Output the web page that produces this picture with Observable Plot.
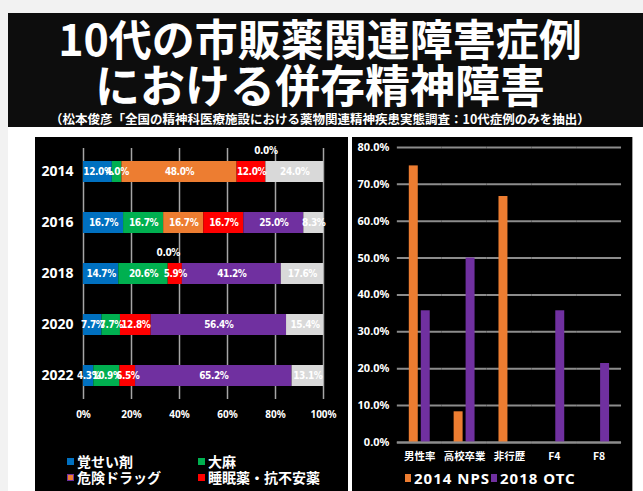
<!DOCTYPE html>
<html><head><meta charset="utf-8">
<script src="https://cdn.jsdelivr.net/npm/d3@7"></script>
<script src="https://cdn.jsdelivr.net/npm/@observablehq/plot@0.6"></script>
<style>
html,body{margin:0;padding:0;}
body{width:643px;height:491px;position:relative;overflow:hidden;background:#f2f2f2;font-family:"Noto Sans CJK JP",sans-serif;}
#white{position:absolute;left:8px;top:13px;width:635px;height:478px;background:#fff;}
#titlebox{position:absolute;left:8px;top:13px;width:635px;height:114px;background:#0d0d0d;}
.t{position:absolute;left:0;width:640px;text-align:center;color:#fff;font-weight:700;white-space:nowrap;line-height:1;}
#t1{top:16px;font-size:43px;height:43px;}
#t2{top:61px;font-size:45px;height:45px;}
#t3{top:113px;font-size:12.5px;}
.panel{position:absolute;top:137px;height:354px;background:#000;box-sizing:border-box;}
#left{left:35px;width:313px;}
#right{left:352px;width:281px;border-right:1px solid #a0a0a0;}
.panel svg{position:absolute;left:0;top:0;}
.lg{position:absolute;display:flex;align-items:center;color:#fff;font-weight:700;white-space:nowrap;line-height:16px;height:16px;}
.lg .sq{display:inline-block;width:7px;height:7px;margin-right:3px;box-sizing:border-box;}
#left .lg{font-size:14px;}
#right .lg{font-size:15px;letter-spacing:1px;font-family:"Noto Sans","Noto Sans CJK JP",sans-serif;}
#right .lg .sq{width:6px;height:8px;margin-right:3px;}
.pl text{font-family:"Noto Sans","Noto Sans CJK JP",sans-serif;font-weight:700;fill:#fff;}
#left [aria-label^="y-axis"] text{font-size:14px;}
#left [aria-label^="x-axis"] text{font-size:10px;}
#right [aria-label^="y-axis"] text{font-size:11px;}
#right [aria-label^="fx-axis"] text{font-size:10.5px;font-family:"Noto Sans CJK JP",sans-serif;}
.seg text{font-family:"Liberation Sans Narrow","DejaVu Sans Condensed","Noto Sans",sans-serif;letter-spacing:-0.4px;}
</style>
</head><body>
<div id="white"></div>
<div id="titlebox"></div>
<div class="t" id="t1">10代の市販薬関連障害症例</div>
<div class="t" id="t2">における併存精神障害</div>
<div class="t" id="t3">（松本俊彦「全国の精神科医療施設における薬物関連精神疾患実態調査：10代症例のみを抽出）</div>
<div class="panel" id="left"></div>
<div class="panel" id="right"></div>
<script>
// ---- Left chart data (stacked 100% bars) ----
const years = ["2014", "2016", "2018", "2020", "2022"];
const drugCats = ["覚せい剤", "大麻", "危険ドラッグ", "睡眠薬・抗不安薬", "市販薬", "その他"];
const drugColors = ["#0070c0", "#00b050", "#ed7d31", "#ff0000", "#7030a0", "#d9d9d9"];
const stimulant = [12.0, 16.7, 14.7, 7.7, 4.3];
const cannabis = [4.0, 16.7, 20.6, 7.7, 10.9];
const dangerousDrug = [48.0, 16.7, 0.0, null, null];
const sleepAnxiety = [12.0, 16.7, 5.9, 12.8, 6.5];
const otcDrug = [0.0, 25.0, 41.2, 56.4, 65.2];
const otherDrug = [24.0, 8.3, 17.6, 15.4, 13.1];
const xTicks = [0, 20, 40, 60, 80, 100];
const legendCats = ["覚せい剤", "大麻", "危険ドラッグ", "睡眠薬・抗不安薬"];

// ---- Right chart data (grouped bars) ----
const profileCats = ["男性率", "高校卒業", "非行歴", "F4", "F8"];
const seriesNames = ["2014 NPS", "2018 OTC"];
const seriesColors = ["#ed7d31", "#7030a0"];
const nps2014 = [75.0, 8.3, 66.7, 0, 0];
const otc2018 = [35.7, 50.0, 0, 35.7, 21.4];
const yTicks = [0, 10, 20, 30, 40, 50, 60, 70, 80];

// ---- Left chart ----
const drugSeries = [stimulant, cannabis, dangerousDrug, sleepAnxiety, otcDrug, otherDrug];
const rowsL = [];
years.forEach((yr, i) => drugCats.forEach((c, j) => {
  const v = drugSeries[j][i];
  if (v != null) rowsL.push({year: yr, cat: c, value: v});
}));
const darkText = new Set(["危険ドラッグ", "その他"]);
const fmt = v => v.toFixed(1) + "%";
const segText = {fontSize: 10, fontWeight: "bold"};

const leftPlot = Plot.plot({
  width: 313, height: 354,
  marginLeft: 48, marginRight: 25, marginTop: 11, marginBottom: 92,
  style: {background: "transparent", color: "#fff", overflow: "visible"},
  x: {domain: [0, 100], ticks: xTicks, tickFormat: d => d + "%", tickSize: 0, tickPadding: 11, label: null},
  y: {domain: years, paddingInner: 0.59, paddingOuter: 0.255, tickSize: 0, tickPadding: 10, label: null},
  color: {domain: drugCats, range: drugColors},
  marks: [
    Plot.ruleX(xTicks, {stroke: "#a6a6a6", strokeWidth: 1.5}),
    Plot.barX(rowsL, Plot.stackX({y: "year", x: "value", z: "cat", fill: "cat"})),
    Plot.text(rowsL, Plot.stackX({y: "year", x: "value", z: "cat",
      text: d => d.value > 0 && !darkText.has(d.cat) ? fmt(d.value) : null, fill: "#fff", className: "seg", ...segText})),
    Plot.text(rowsL, Plot.stackX({y: "year", x: "value", z: "cat",
      text: d => d.value > 0 && darkText.has(d.cat) ? fmt(d.value) : null, fill: "#000", className: "seg", ...segText})),
    Plot.text(rowsL, Plot.stackX({y: "year", x: "value", z: "cat",
      text: d => d.value === 0 ? fmt(d.value) : null, fill: "#fff", dy: -21, className: "seg", ...segText}))
  ]
});
leftPlot.classList.add("pl");
document.getElementById("left").appendChild(leftPlot);

// left legend
const legPos = [[32, 316], [163, 316], [32, 332], [163, 332]];
legendCats.forEach((c, i) => {
  const d = document.createElement("div");
  d.className = "lg";
  d.style.left = legPos[i][0] + "px";
  d.style.top = legPos[i][1] + "px";
  const sq = document.createElement("span");
  sq.className = "sq";
  sq.style.background = drugColors[drugCats.indexOf(c)];
  if (c === "危険ドラッグ") sq.style.border = "1px solid #7030a0";
  d.appendChild(sq);
  d.appendChild(document.createTextNode(c));
  document.getElementById("left").appendChild(d);
});

// ---- Right chart ----
const rowsR = [];
profileCats.forEach((c, i) => {
  rowsR.push({cat: c, series: seriesNames[0], value: nps2014[i]});
  rowsR.push({cat: c, series: seriesNames[1], value: otc2018[i]});
});
const rightPlot = Plot.plot({
  width: 281, height: 354,
  marginLeft: 44, marginRight: 10, marginTop: 10, marginBottom: 48,
  style: {background: "transparent", color: "#fff", overflow: "visible"},
  facet: {data: rowsR, x: "cat"},
  fx: {domain: profileCats, padding: 0, axis: "bottom", tickSize: 0, tickPadding: 10, label: null},
  x: {domain: seriesNames, paddingInner: 0.23, paddingOuter: 0.86, axis: null},
  y: {domain: [0, 80], ticks: yTicks, tickFormat: d => d.toFixed(1) + "%", tickSize: 0, tickPadding: 8, label: null},
  color: {domain: seriesNames, range: seriesColors},
  marks: [
    Plot.ruleY(yTicks, {stroke: "#8c8c8c", strokeWidth: 2}),
    Plot.barY(rowsR, {x: "series", y: "value", fill: "series"}),
    Plot.ruleY([0], {stroke: "#8c8c8c", strokeWidth: 2})
  ]
});
rightPlot.classList.add("pl");
document.getElementById("right").appendChild(rightPlot);

const legPosR = [[53, 333], [139, 333]];
seriesNames.forEach((s, i) => {
  const d = document.createElement("div");
  d.className = "lg";
  d.style.left = legPosR[i][0] + "px";
  d.style.top = legPosR[i][1] + "px";
  const sq = document.createElement("span");
  sq.className = "sq";
  sq.style.background = seriesColors[i];
  d.appendChild(sq);
  d.appendChild(document.createTextNode(s));
  document.getElementById("right").appendChild(d);
});
</script>
</body></html>
